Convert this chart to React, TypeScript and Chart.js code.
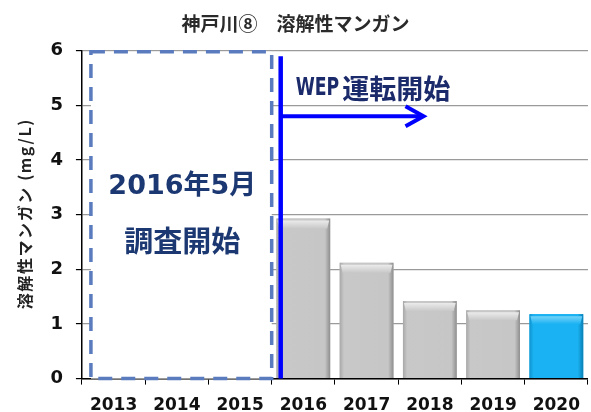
import React, { useEffect, useRef } from "react";
import { Chart, registerables } from "chart.js";

Chart.register(...registerables);

const categories = ["2013", "2014", "2015", "2016", "2017", "2018", "2019", "2020"];
const values = [null, null, null, 2.93, 2.12, 1.42, 1.25, 1.18];
const barColors = ["#C6C6C6", "#C6C6C6", "#C6C6C6", "#C6C6C6", "#C6C6C6", "#C6C6C6", "#C6C6C6", "#1AB2F2"];
const yTicks = [0, 1, 2, 3, 4, 5, 6];
const titleText = "神戸川⑧　溶解性マンガン";
const yTitle = "溶解性マンガン (mg/L)";
const boxLine1 = "2016年5月";
const boxLine2 = "調査開始";
const wepLatin = "WEP";
const wepCjk = "運転開始";

const annotationPlugin = {
  id: "annot",
  afterDatasetsDraw(chart: any) {
    const { ctx } = chart;
    const x = chart.scales.x;
    const y = chart.scales.y;
    const step = x.getPixelForValue(1) - x.getPixelForValue(0);
    const boundary = (i: number) => x.getPixelForValue(0) + (i + 0.5) * step;
    // bevel on bars
    const meta = chart.getDatasetMeta(0);
    meta.data.forEach((bar: any, i: number) => {
      if (values[i] == null) return;
      const l = bar.x - bar.width / 2;
      const r = bar.x + bar.width / 2;
      const t = bar.y;
      const b = bar.base;
      ctx.save();
      const isBlue = i === 7;
      const g = ctx.createLinearGradient(l, 0, r, 0);
      g.addColorStop(0, isBlue ? "#0E95D0" : "#A8A8A8");
      g.addColorStop(0.08, isBlue ? "#1AB2F2" : "#C8C8C8");
      g.addColorStop(0.9, isBlue ? "#1AB2F2" : "#C6C6C6");
      g.addColorStop(1, isBlue ? "#0A7FB5" : "#8E8E8E");
      ctx.fillStyle = g;
      ctx.fillRect(l, t, r - l, b - t);
      const gt = ctx.createLinearGradient(0, t, 0, t + 10);
      gt.addColorStop(0, isBlue ? "#8EDCFB" : "#F4F4F4");
      gt.addColorStop(1, isBlue ? "#1AB2F2" : "#C8C8C8");
      ctx.fillStyle = gt;
      ctx.beginPath();
      ctx.moveTo(l + 3, t + 10);
      ctx.lineTo(l + 1, t + 2);
      ctx.lineTo(r - 1, t + 2);
      ctx.lineTo(r - 3, t + 10);
      ctx.closePath();
      ctx.fill();
      ctx.restore();
    });
    // dashed box
    const bl = boundary(-1) + 9;
    const br = boundary(2);
    const bt = y.getPixelForValue(6) + 1;
    const bb = y.getPixelForValue(0);
    ctx.save();
    ctx.fillStyle = "#FFFFFF";
    ctx.fillRect(bl, bt, br - bl, bb - bt);
    ctx.strokeStyle = "#5A7BBE";
    ctx.lineWidth = 3.5;
    ctx.setLineDash([14, 9]);
    ctx.strokeRect(bl, bt, br - bl, bb - bt);
    ctx.setLineDash([]);
    ctx.fillStyle = "#1C3872";
    ctx.textAlign = "center";
    ctx.textBaseline = "middle";
    const cx = (bl + br) / 2 + 1;
    ctx.font = "bold 27px 'DejaVu Sans', 'Noto Sans CJK JP'";
    ctx.fillText(boxLine1, cx, y.getPixelForValue(3.5));
    ctx.font = "bold 29px 'Noto Sans CJK JP'";
    ctx.fillText(boxLine2, cx, y.getPixelForValue(2.52));
    // blue vertical line
    const vx = boundary(2) + 9;
    ctx.strokeStyle = "#0000FF";
    ctx.lineWidth = 4.5;
    ctx.beginPath();
    ctx.moveTo(vx, y.getPixelForValue(5.9));
    ctx.lineTo(vx, y.getPixelForValue(0));
    ctx.stroke();
    // arrow
    const ay = y.getPixelForValue(4.8);
    const tip = x.getPixelForValue(4.9);
    ctx.lineWidth = 4;
    ctx.beginPath();
    ctx.moveTo(vx, ay);
    ctx.lineTo(tip - 2, ay);
    ctx.stroke();
    ctx.beginPath();
    ctx.moveTo(tip - 18, ay - 10);
    ctx.lineTo(tip, ay);
    ctx.lineTo(tip - 18, ay + 10);
    ctx.stroke();
    // WEP text
    ctx.fillStyle = "#1B2A6B";
    ctx.textAlign = "left";
    const ty = y.getPixelForValue(5.3);
    ctx.font = "bold 24px 'DejaVu Sans Condensed', 'DejaVu Sans'";
    ctx.save();
    ctx.translate(vx + 15, ty);
    ctx.scale(0.8, 1);
    ctx.fillText(wepLatin, 0, 0);
    const wl = ctx.measureText(wepLatin).width * 0.8;
    ctx.restore();
    ctx.font = "bold 27px 'Noto Sans CJK JP'";
    ctx.fillText(wepCjk, vx + 15 + wl + 3, ty);
    ctx.restore();
  },
  afterDraw(chart: any) {
    const { ctx, chartArea } = chart;
    ctx.save();
    ctx.translate(25, (chartArea.top + chartArea.bottom) / 2 - 1);
    ctx.rotate(-Math.PI / 2);
    ctx.font = "bold 16px 'Noto Sans CJK JP'";
    (ctx as any).letterSpacing = "1.6px";
    ctx.fillStyle = "#222222";
    ctx.textAlign = "center";
    ctx.textBaseline = "middle";
    ctx.fillText(yTitle, 0, 0);
    ctx.restore();
  },
};

export default function App() {
  const ref = useRef<HTMLCanvasElement>(null);
  useEffect(() => {
    const chart = new Chart(ref.current!, {
      type: "bar",
      data: {
        labels: categories,
        datasets: [
          {
            data: values as any,
            backgroundColor: barColors,
            barPercentage: 0.85,
            categoryPercentage: 1.0,
          },
        ],
      },
      options: {
        animation: false,
        responsive: false,
        maintainAspectRatio: false,
        layout: { padding: { top: 12, right: 0, left: 0, bottom: -15 } },
        plugins: {
          legend: { display: false },
          tooltip: { enabled: false },
          title: {
            display: true,
            text: titleText,
            color: "#2A2A2A",
            font: { family: "'Noto Sans CJK JP'", size: 19, weight: "bold" },
            padding: { top: 0, bottom: 16 },
          },
        },
        scales: {
          x: {
            grid: { offset: true, drawOnChartArea: false, color: "#000000", tickLength: 6 },
            border: { color: "#000000", width: 1.5 },
            ticks: {
              color: "#111111",
              font: { family: "'DejaVu Sans'", size: 17, weight: "bold" },
              padding: 11,
              maxRotation: 0,
            },
          },
          y: {
            min: 0,
            max: 6,
            afterBuildTicks: (s: any) => {
              s.ticks = yTicks.map((v) => ({ value: v }));
            },
            grid: { color: "#9A9A9A", lineWidth: 1.2, tickLength: 6, tickColor: "#000000" },
            border: { color: "#000000", width: 1.5 },
            ticks: {
              color: "#111111",
              font: { family: "'DejaVu Sans'", size: 18, weight: "bold" },
              padding: 13,
            },
            title: {
              display: true,
              text: yTitle,
              color: "rgba(0,0,0,0)",
              font: { family: "'Noto Sans CJK JP'", size: 17, weight: "bold" },
              padding: { top: 12, bottom: 5 },
            },
          },
        },
      },
      plugins: [annotationPlugin],
    });
    return () => chart.destroy();
  }, []);
  return (
    <div style={{ position: "absolute", left: 0, top: 0, width: 591, height: 412, background: "#fff" }}>
      <canvas ref={ref} width={591} height={412} />
    </div>
  );
}
